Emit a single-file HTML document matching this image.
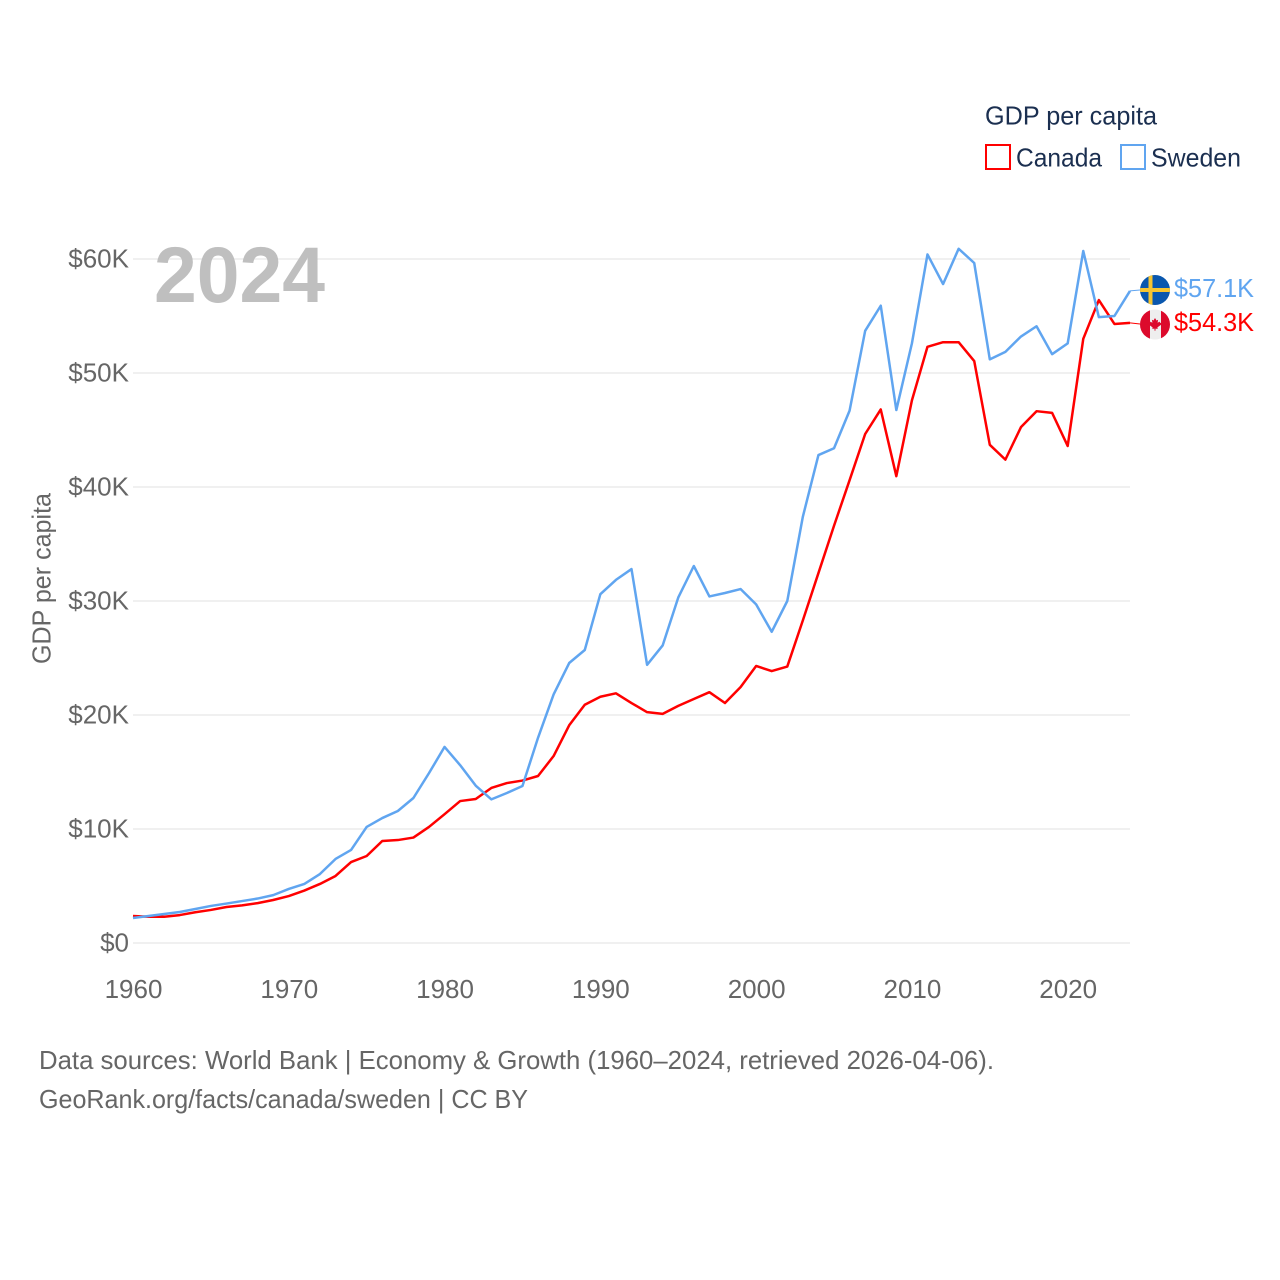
<!DOCTYPE html>
<html lang="en">
<head>
<meta charset="utf-8">
<title>GDP per capita: Canada and Sweden</title>
<style>
html,body{margin:0;padding:0;background:#fff}
svg{display:block;font-family:"Liberation Sans",sans-serif}
</style>
</head>
<body>
<svg id="chart" width="1280" height="1280" viewBox="0 0 1280 1280" xmlns="http://www.w3.org/2000/svg">
  <defs>
    <clipPath id="clip-se"><circle cx="1155" cy="290" r="15"/></clipPath>
    <clipPath id="clip-ca"><circle cx="1155" cy="324.5" r="15"/></clipPath>
  </defs>
  <rect width="1280" height="1280" fill="#fff"/>
  <g id="grid"></g>
  <g id="yticks"></g>
  <g id="xticks"></g>
  <text transform="translate(50.5,578.5) rotate(-90)" text-anchor="middle" font-size="26" fill="#666" textLength="171" lengthAdjust="spacingAndGlyphs">GDP per capita</text>
  <text x="154" y="302" font-size="79" font-weight="700" fill="#bfbfbf" textLength="171" lengthAdjust="spacingAndGlyphs">2024</text>
  <g id="series"></g>

  <g clip-path="url(#clip-se)">
    <rect x="1140" y="275" width="30" height="30" fill="#0a57ae"/>
    <rect x="1140" y="288" width="30" height="4" fill="#f7c531"/>
    <rect x="1148.5" y="275" width="4" height="30" fill="#f7c531"/>
  </g>
  <g clip-path="url(#clip-ca)">
    <rect x="1140" y="309.5" width="30" height="30" fill="#eeeeee"/>
    <rect x="1140" y="309.5" width="10" height="30" fill="#dc0a2c"/>
    <rect x="1161" y="309.5" width="9" height="30" fill="#dc0a2c"/>
    <path d="M1155 318l1.5 2.5 1.6-.7-.5 3 2-1.2.5 1.3 1.6-.2-.6 2-.7.6-3 2.1.3 1.5-2.2-.3v2h-1v-2l-2.2.3.3-1.5-3-2.1-.7-.6-.6-2 1.6.2.5-1.3 2 1.2-.5-3 1.6.7z" fill="#dc0a2c"/>
  </g>
  <text id="label-se" x="1174" y="297" font-size="26" fill="#60a5f0" textLength="80" lengthAdjust="spacingAndGlyphs"></text>
  <text id="label-ca" x="1174" y="331" font-size="26" fill="#ff0000" textLength="80" lengthAdjust="spacingAndGlyphs"></text>

  <g>
    <text x="985" y="124.5" font-size="26" fill="#1b2f50" textLength="172" lengthAdjust="spacingAndGlyphs">GDP per capita</text>
    <g>
      <rect x="986" y="145" width="24" height="24" fill="none" stroke="#ff0000" stroke-width="2"/>
      <text x="1016" y="166.5" font-size="26" fill="#1b2f50" textLength="86" lengthAdjust="spacingAndGlyphs">Canada</text>
    </g>
    <g>
      <rect x="1121" y="145" width="24" height="24" fill="none" stroke="#60a5f0" stroke-width="2"/>
      <text x="1151" y="166.5" font-size="26" fill="#1b2f50" textLength="90" lengthAdjust="spacingAndGlyphs">Sweden</text>
    </g>
  </g>

  <g>
    <text x="39" y="1069" font-size="26" fill="#666" textLength="955" lengthAdjust="spacingAndGlyphs">Data sources: World Bank | Economy &amp; Growth (1960–2024, retrieved 2026-04-06).</text>
    <text x="39" y="1108" font-size="26" fill="#666" textLength="489" lengthAdjust="spacingAndGlyphs">GeoRank.org/facts/canada/sweden | CC BY</text>
  </g>
</svg>
<script>
const firstYear = 1960;
const xTickYears = [1960, 1970, 1980, 1990, 2000, 2010, 2020];
const yTickValues = [0, 10, 20, 30, 40, 50, 60];
const yTickLabels = ["$0", "$10K", "$20K", "$30K", "$40K", "$50K", "$60K"];
const swedenValues = [2.19,2.37,2.54,2.72,2.98,3.25,3.46,3.68,3.9,4.2,4.74,5.18,6.05,7.37,8.16,10.18,10.96,11.58,12.72,14.9,17.2,15.6,13.8,12.6,13.16,13.77,18,21.8,24.56,25.7,30.6,31.85,32.8,24.4,26.1,30.3,33.07,30.4,30.7,31.05,29.7,27.3,30,37.4,42.8,43.4,46.7,53.7,55.9,46.75,52.6,60.4,57.8,60.9,59.65,51.2,51.85,53.2,54.1,51.65,52.6,60.7,54.9,55,57.2];
const canadaValues = [2.37,2.3,2.3,2.45,2.7,2.9,3.16,3.3,3.5,3.77,4.12,4.6,5.18,5.88,7.1,7.63,8.95,9.03,9.25,10.18,11.3,12.45,12.63,13.6,14.03,14.25,14.65,16.4,19.1,20.9,21.6,21.9,21.05,20.25,20.1,20.8,21.4,22,21.05,22.45,24.3,23.85,24.25,28.3,32.45,36.6,40.6,44.65,46.8,40.95,47.6,52.3,52.7,52.7,51.05,43.7,42.4,45.25,46.65,46.5,43.6,53,56.4,54.3,54.4];
const swedenEndLabel = "$57.1K";
const canadaEndLabel = "$54.3K";

const NS = "http://www.w3.org/2000/svg";
const xScale = function (year) { return 133 + (year - 1960) * (997 / 64); };
const yScale = function (v) { return 943 - v * (684 / 60); };

function make(tag, attrs, parent) {
  const el = document.createElementNS(NS, tag);
  for (const k in attrs) el.setAttribute(k, attrs[k]);
  parent.appendChild(el);
  return el;
}

const grid = document.getElementById("grid");
const yticks = document.getElementById("yticks");
const xticks = document.getElementById("xticks");
const series = document.getElementById("series");

yTickValues.forEach(function (v, i) {
  const line = make("line", { x1: 133, x2: 1130, y1: yScale(v), y2: yScale(v), stroke: "#ebebeb", "stroke-width": 1.5 }, grid);
  
  
  const label = make("text", { x: 129, y: yScale(v) + 8.5, "text-anchor": "end", "font-size": 26, fill: "#666" }, yticks);
  
  
  label.textContent = yTickLabels[i];
});

xTickYears.forEach(function (year) {
  const label = make("text", { x: xScale(year) + 0.5, y: 998, "text-anchor": "middle", "font-size": 26, fill: "#666" }, xticks);
  
  
  label.textContent = String(year);
});

function linePoints(values) {
  return values.map(function (v, i) {
    return xScale(firstYear + i).toFixed(2) + "," + yScale(v).toFixed(2);
  }).join(" ");
}

const canadaLine = make("polyline", { points: linePoints(canadaValues), fill: "none", stroke: "#ff0000", "stroke-width": 2.5, "stroke-linejoin": "round" }, series);



const swedenLine = make("polyline", { points: linePoints(swedenValues), fill: "none", stroke: "#60a5f0", "stroke-width": 2.5, "stroke-linejoin": "round" }, series);



const lastYear = firstYear + swedenValues.length - 1;
const canadaConnector = make("line", { x1: xScale(lastYear), y1: yScale(canadaValues[canadaValues.length - 1]), x2: 1140, y2: 324, stroke: "#ff0000", "stroke-width": 1 }, series);



const swedenConnector = make("line", { x1: xScale(lastYear), y1: yScale(swedenValues[swedenValues.length - 1]), x2: 1140, y2: 290, stroke: "#60a5f0", "stroke-width": 1 }, series);



document.getElementById("label-se").textContent = swedenEndLabel;
document.getElementById("label-ca").textContent = canadaEndLabel;
</script>
</body>
</html>
